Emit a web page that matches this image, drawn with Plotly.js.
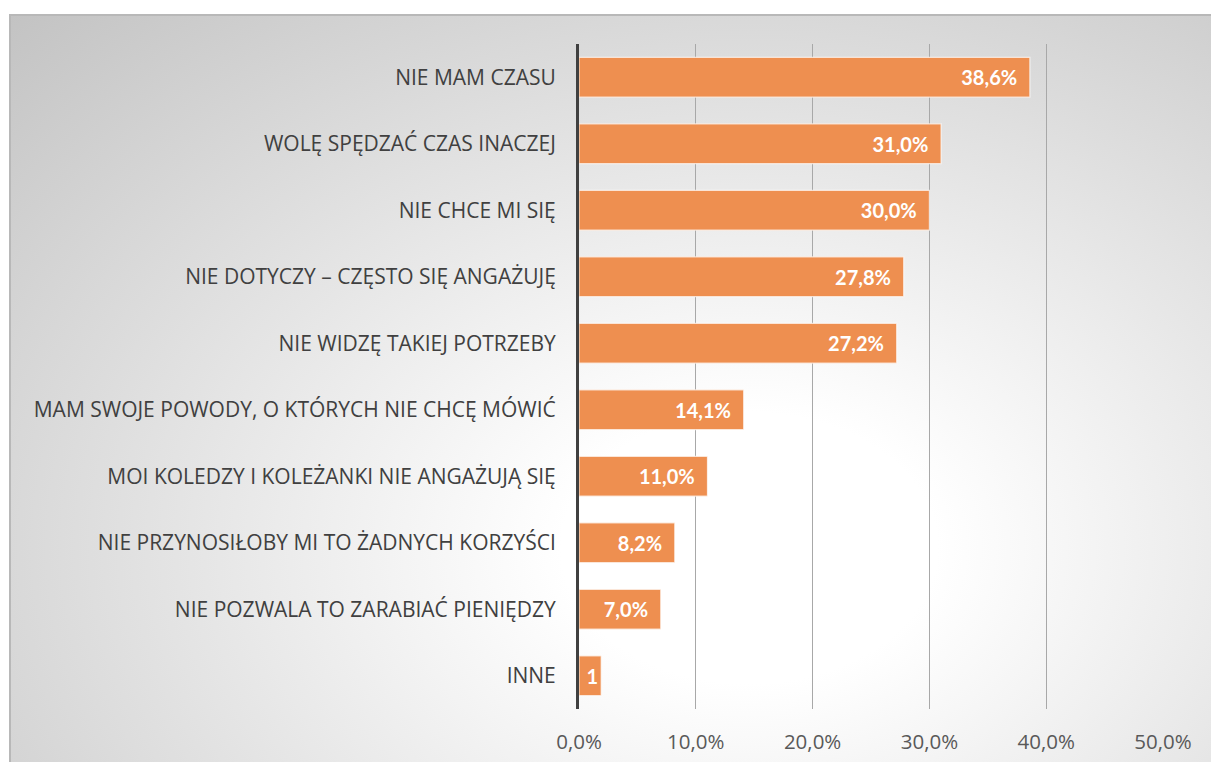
<!DOCTYPE html>
<html>
<head>
<meta charset="utf-8">
<script src="https://cdn.plot.ly/plotly-3.0.1.min.js"></script>
<style>
  html, body { margin: 0; padding: 0; width: 1211px; height: 762px; overflow: hidden; background: #ffffff; }
  #frame {
    position: absolute; left: 9px; top: 14px; width: 1210px; height: 760px;
    border-top: 2px solid #b8b8b8; border-left: 2px solid #b8b8b8;
    background: radial-gradient(ellipse farthest-corner at 61% 70%, #ffffff 0%, #ffffff 18%, #c3c3c3 100%);
  }
  #chart { position: absolute; left: 0; top: 0; width: 1211px; height: 762px; }
</style>
</head>
<body>
<div id="frame"></div>
<div id="chart"></div>
<script>
const categories = [
  "NIE MAM CZASU",
  "WOLĘ SPĘDZAĆ CZAS INACZEJ",
  "NIE CHCE MI SIĘ",
  "NIE DOTYCZY – CZĘSTO SIĘ ANGAŻUJĘ",
  "NIE WIDZĘ TAKIEJ POTRZEBY",
  "MAM SWOJE POWODY, O KTÓRYCH NIE CHCĘ MÓWIĆ",
  "MOI KOLEDZY I KOLEŻANKI NIE ANGAŻUJĄ SIĘ",
  "NIE PRZYNOSIŁOBY MI TO ŻADNYCH KORZYŚCI",
  "NIE POZWALA TO ZARABIAĆ PIENIĘDZY",
  "INNE"
];
const values = [38.6, 31.0, 30.0, 27.8, 27.2, 14.1, 11.0, 8.2, 7.0, 1.9];
const valueLabels = ["38,6%", "31,0%", "30,0%", "27,8%", "27,2%", "14,1%", "11,0%", "8,2%", "7,0%", "1"];
const tickValues = [0, 10, 20, 30, 40, 50];
const tickLabels = ["0,0%", "10,0%", "20,0%", "30,0%", "40,0%", "50,0%"];

const pad = "\u00a0\u00a0";
const trace = {
  type: "bar",
  orientation: "h",
  x: values,
  y: categories,
  text: valueLabels.map((t, i) => (i === valueLabels.length - 1 ? t : t + pad)),
  textposition: "inside",
  insidetextanchor: "end",
  constraintext: "none",
  cliponaxis: false,
  textfont: { family: "Lato, 'Open Sans', sans-serif", size: 20, color: "#ffffff", weight: "bold" },
  marker: { color: "#EE8F50", line: { color: "rgba(255,255,255,0.7)", width: 1.2 } },
  hoverinfo: "skip"
};

const layout = {
  width: 1211, height: 762,
  paper_bgcolor: "rgba(0,0,0,0)",
  plot_bgcolor: "rgba(0,0,0,0)",
  margin: { l: 579, r: 48, t: 44, b: 53 },
  bargap: 0.4,
  showlegend: false,
  font: { family: "'Open Sans', sans-serif" },
  xaxis: {
    range: [0, 50],
    tickvals: tickValues,
    ticktext: tickLabels,
    showgrid: true,
    gridcolor: "#a8a8a8",
    gridwidth: 1,
    zeroline: false,
    showline: false,
    ticks: "",
    ticklabelstandoff: 18,
    tickfont: { family: "'Open Sans', sans-serif", size: 20.5, color: "#595959" }
  },
  yaxis: {
    autorange: "reversed",
    showgrid: false,
    zeroline: false,
    showline: true,
    linecolor: "#404040",
    linewidth: 3,
    ticks: "",
    ticklabelstandoff: 16,
    tickfont: { family: "'Open Sans', sans-serif", size: 21, color: "#404040" }
  }
};

Plotly.newPlot("chart", [trace], layout, { displayModeBar: false, staticPlot: true });
</script>
</body>
</html>
